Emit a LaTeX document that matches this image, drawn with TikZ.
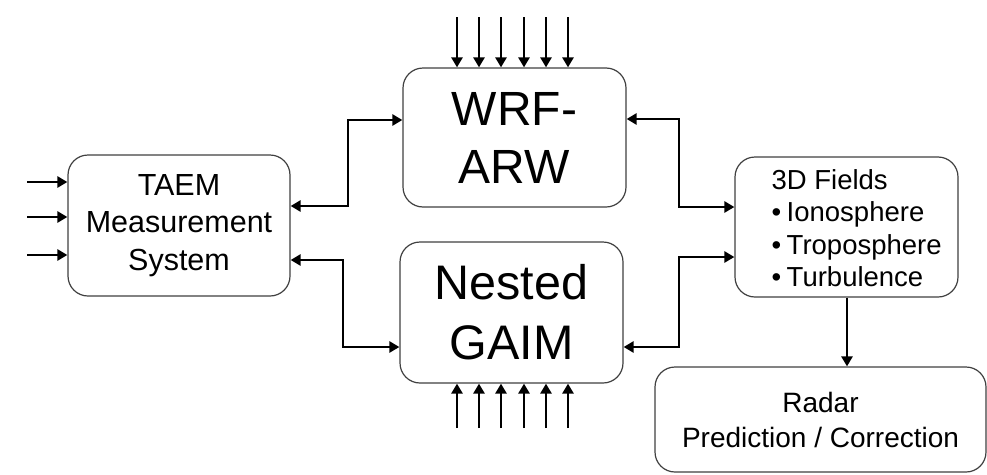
\documentclass[tikz,border=0pt]{standalone}
\usepackage{fontspec}
\setmainfont{Liberation Sans}
\usetikzlibrary{arrows.meta,calc}
\begin{document}
\begin{tikzpicture}[x=1pt,y=-1pt,
  block/.style={draw=black!75,line width=1.2pt,rounded corners=20pt,fill=white,
    inner sep=0pt,align=center},
  tip/.tip={Triangle[length=10pt,width=11pt]},
  link/.style={line width=2.8pt,-tip},
  dlink/.style={line width=2.8pt,tip-tip}]
  \useasboundingbox (0,0) rectangle (987,474);

  % main blocks
  \node[block,minimum width=222pt,minimum height=141pt,
        font=\fontsize{30.5}{37.5}\selectfont] (taem) at (179,225.5)
        {TAEM\\Measurement\\System};
  \node[block,minimum width=223pt,minimum height=139pt,
        font=\fontsize{48}{58}\selectfont] (wrf) at (514.5,137.5) {WRF-\\ARW};
  \node[block,minimum width=223pt,minimum height=141pt,
        font=\fontsize{48.5}{60}\selectfont] (gaim) at (511.5,312.5) {Nested\\GAIM};
  \node[block,minimum width=223pt,minimum height=140pt] (fields) at (846.5,227) {};
  \node[anchor=west,align=left,inner sep=0pt,font=\fontsize{27.5}{32.5}\selectfont]
        (fieldstxt) at ($(fields.west)+(37,1)$)
        {3D Fields\\\textbullet\hspace{0.2em}Ionosphere\\\textbullet\hspace{0.2em}Troposphere\\\textbullet\hspace{0.2em}Turbulence};
  \node[block,minimum width=331pt,minimum height=105pt,
        font=\fontsize{28}{35}\selectfont] (radar) at (820.5,419.5)
        {Radar\\Prediction / Correction};

  % measurement inputs
  \foreach \y [count=\i] in {182,217,255} {
    \coordinate (in\i) at (27,\y);
    \draw[link] (in\i) -- (in\i -| taem.west);
  }

  % forcing inputs above and below the models
  \foreach \x [count=\i] in {457,479,501,524,546,568} {
    \coordinate (top\i) at (\x,17);
    \coordinate (bot\i) at (\x,428);
    \draw[link] (top\i) -- (top\i |- wrf.north);
    \draw[link] (bot\i) -- (bot\i |- gaim.south);
  }

  % exchanges between the blocks
  \coordinate (tw1) at (348,206);
  \coordinate (tw2) at (348,120);
  \draw[dlink] (taem.east |- tw1) -- (tw1) -- (tw2) -- (tw2 -| wrf.west);

  \coordinate (tg1) at (343,260);
  \coordinate (tg2) at (343,347);
  \draw[dlink] (taem.east |- tg1) -- (tg1) -- (tg2) -- (tg2 -| gaim.west);

  \coordinate (wf1) at (679,119);
  \coordinate (wf2) at (679,207);
  \draw[dlink] (wrf.east |- wf1) -- (wf1) -- (wf2) -- (wf2 -| fields.west);

  \coordinate (gf1) at (679,257);
  \coordinate (gf2) at (679,347);
  \draw[dlink] (fields.west |- gf1) -- (gf1) -- (gf2) -- (gf2 -| gaim.east);

  \coordinate (fr) at (847,0);
  \draw[link] (fr |- fields.south) -- (fr |- radar.north);
\end{tikzpicture}
\end{document}
